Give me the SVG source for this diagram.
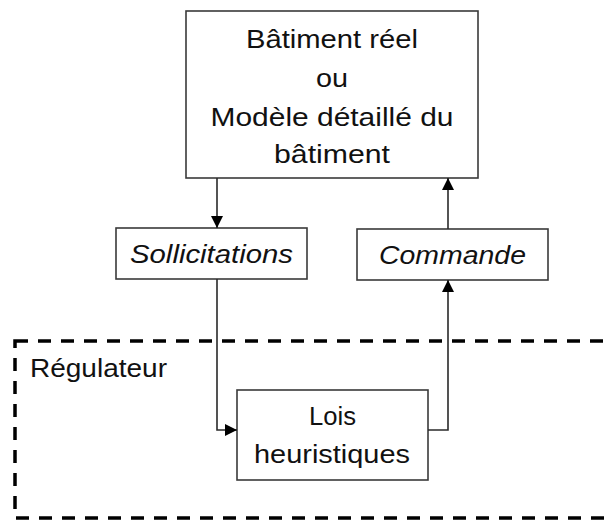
<svg xmlns="http://www.w3.org/2000/svg" width="609" height="520" viewBox="0 0 609 520">
  <style>
    .box { fill: #ffffff; stroke: #3a3a3a; stroke-width: 1.6; }
    .lbl { font-family: "Liberation Sans", Arial, sans-serif; font-size: 26px; fill: #111111; text-anchor: middle; }
    .it { font-style: italic; }
    .conn { fill: none; stroke: #2a2a2a; stroke-width: 1.6; }
    .zone { fill: none; stroke: #000000; stroke-width: 3.5; stroke-dasharray: 13 10; }
  </style>
  <defs>
    <marker id="arr" markerUnits="userSpaceOnUse" markerWidth="12" markerHeight="12" viewBox="0 0 10 10" refX="10" refY="5" orient="auto">
      <path d="M0,0 L10,5 L0,10 Z" fill="#000000"/>
    </marker>
  </defs>

  <g id="regulateur">
    <rect class="zone" x="15" y="341" width="620" height="177"/>
    <text class="lbl" x="98.5" y="377" textLength="137" lengthAdjust="spacingAndGlyphs">Régulateur</text>
  </g>

  <g id="batiment">
    <rect class="box" x="186" y="11" width="292" height="167"/>
    <text class="lbl" x="332" y="48" textLength="172" lengthAdjust="spacingAndGlyphs">Bâtiment réel</text>
    <text class="lbl" x="332" y="87" textLength="32" lengthAdjust="spacingAndGlyphs">ou</text>
    <text class="lbl" x="332" y="126" textLength="243" lengthAdjust="spacingAndGlyphs">Modèle détaillé du</text>
    <text class="lbl" x="332" y="163" textLength="116" lengthAdjust="spacingAndGlyphs">bâtiment</text>
  </g>

  <g id="sollicitations">
    <rect class="box" x="116" y="228" width="191" height="51"/>
    <text class="lbl it" x="211.5" y="263" textLength="163" lengthAdjust="spacingAndGlyphs">Sollicitations</text>
  </g>

  <g id="commande">
    <rect class="box" x="357" y="229" width="191" height="51"/>
    <text class="lbl it" x="452.5" y="264" textLength="147" lengthAdjust="spacingAndGlyphs">Commande</text>
  </g>

  <g id="lois">
    <rect class="box" x="237" y="390" width="191" height="90"/>
    <text class="lbl" x="332.5" y="425" textLength="47" lengthAdjust="spacingAndGlyphs">Lois</text>
    <text class="lbl" x="332" y="463" textLength="156" lengthAdjust="spacingAndGlyphs">heuristiques</text>
  </g>

  <g id="connectors">
    <path class="conn" d="M217,178 L217,228" marker-end="url(#arr)"/>
    <path class="conn" d="M217,279 L217,430 L237,430" marker-end="url(#arr)"/>
    <path class="conn" d="M428,430 L448,430 L448,280" marker-end="url(#arr)"/>
    <path class="conn" d="M448,229 L448,178" marker-end="url(#arr)"/>
  </g>
</svg>
